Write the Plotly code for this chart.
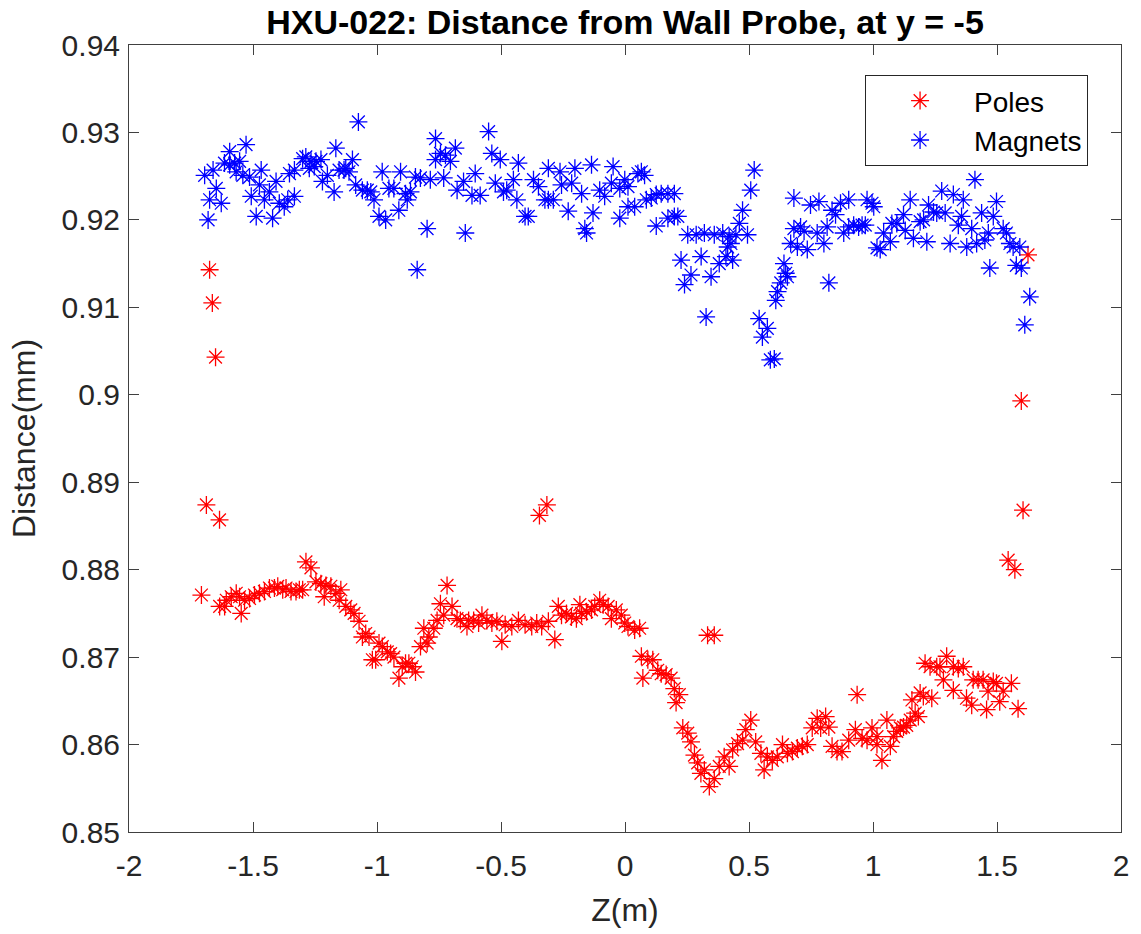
import plotly.graph_objects as go

# ---------------- data ----------------
magnets_z = [
    -1.695, -1.681, -1.675, -1.661, -1.648, -1.628, -1.615, -1.594, -1.594, -1.574,
    -1.568, -1.554, -1.541, -1.528, -1.514, -1.507, -1.487, -1.474, -1.467, -1.454,
    -1.434, -1.421, -1.407, -1.394, -1.374, -1.360, -1.353, -1.333, -1.333, -1.300,
    -1.287, -1.273, -1.266, -1.253, -1.246, -1.226, -1.220, -1.200, -1.173, -1.166,
    -1.153, -1.133, -1.126, -1.113, -1.099, -1.086, -1.075, -1.059, -1.039, -1.025,
    -1.012, -0.992, -0.979, -0.965, -0.952, -0.932, -0.912, -0.905, -0.885, -0.878,
    -0.865, -0.845, -0.838, -0.825, -0.798, -0.785, -0.764, -0.764, -0.744, -0.731,
    -0.724, -0.704, -0.684, -0.677, -0.651, -0.644, -0.617, -0.604, -0.584, -0.550,
    -0.537, -0.523, -0.503, -0.490, -0.477, -0.450, -0.436, -0.430, -0.403, -0.390,
    -0.369, -0.349, -0.323, -0.309, -0.309, -0.289, -0.262, -0.256, -0.229, -0.215,
    -0.202, -0.175, -0.162, -0.155, -0.135, -0.129, -0.102, -0.082, -0.055, -0.048,
    -0.021, -0.021, -0.001, 0.012, 0.012, 0.039, 0.052, 0.066, 0.079, 0.086,
    0.106, 0.126, 0.126, 0.146, 0.173, 0.173, 0.199, 0.199, 0.213, 0.226,
    0.240, 0.253, 0.266, 0.287, 0.307, 0.320, 0.327, 0.347, 0.360, 0.380,
    0.394, 0.407, 0.414, 0.420, 0.427, 0.434, 0.447, 0.461, 0.474, 0.494,
    0.507, 0.521, 0.541, 0.554, 0.574, 0.586, 0.602, 0.608, 0.615, 0.628,
    0.641, 0.648, 0.655, 0.668, 0.681, 0.681, 0.695, 0.708, 0.722, 0.735,
    0.748, 0.775, 0.782, 0.802, 0.815, 0.822, 0.835, 0.849, 0.869, 0.882,
    0.902, 0.902, 0.922, 0.942, 0.956, 0.969, 0.976, 0.996, 1.003, 1.016,
    1.029, 1.043, 1.070, 1.076, 1.096, 1.123, 1.130, 1.150, 1.163, 1.190,
    1.204, 1.217, 1.224, 1.244, 1.257, 1.277, 1.291, 1.311, 1.324, 1.344,
    1.357, 1.364, 1.378, 1.398, 1.411, 1.418, 1.438, 1.451, 1.465, 1.471,
    1.485, 1.498, 1.525, 1.538, 1.552, 1.565, 1.578, 1.592, 1.598, 1.612,
    1.632,
]
magnets_d = [
    0.9251, 0.9200, 0.9223, 0.9257, 0.9236, 0.9219, 0.9265, 0.9278, 0.9263, 0.9265,
    0.9255, 0.9267, 0.9251, 0.9286, 0.9249, 0.9227, 0.9204, 0.9240, 0.9257, 0.9223,
    0.9232, 0.9202, 0.9244, 0.9219, 0.9215, 0.9223, 0.9253, 0.9257, 0.9227, 0.9270,
    0.9272, 0.9259, 0.9267, 0.9261, 0.9267, 0.9269, 0.9244, 0.9251, 0.9232, 0.9282,
    0.9257, 0.9257, 0.9259, 0.9255, 0.9269, 0.9240, 0.9312, 0.9234, 0.9234, 0.9232,
    0.9223, 0.9204, 0.9255, 0.9200, 0.9236, 0.9236, 0.9211, 0.9255, 0.9230, 0.9223,
    0.9232, 0.9249, 0.9143, 0.9248, 0.9190, 0.9246, 0.9293, 0.9269, 0.9276, 0.9248,
    0.9274, 0.9267, 0.9282, 0.9234, 0.9244, 0.9185, 0.9228, 0.9253, 0.9228, 0.9301,
    0.9276, 0.9242, 0.9269, 0.9232, 0.9234, 0.9246, 0.9223, 0.9265, 0.9204, 0.9204,
    0.9246, 0.9238, 0.9223, 0.9223, 0.9259, 0.9223, 0.9255, 0.9240, 0.9210, 0.9242,
    0.9259, 0.9230, 0.9190, 0.9185, 0.9263, 0.9208, 0.9234, 0.9227, 0.9242, 0.9261,
    0.9236, 0.9202, 0.9246, 0.9238, 0.9215, 0.9215, 0.9253, 0.9255, 0.9251, 0.9223,
    0.9225, 0.9229, 0.9193, 0.9230, 0.9230, 0.9202, 0.9230, 0.9204, 0.9204, 0.9154,
    0.9126, 0.9183, 0.9137, 0.9183, 0.9158, 0.9185, 0.9089, 0.9135, 0.9183, 0.9150,
    0.9185, 0.9158, 0.9169, 0.9181, 0.9173, 0.9154, 0.9183, 0.9196, 0.9211, 0.9183,
    0.9234, 0.9257, 0.9087, 0.9066, 0.9076, 0.9040, 0.9041, 0.9108, 0.9118, 0.9128,
    0.9150, 0.9139, 0.9135, 0.9173, 0.9190, 0.9225, 0.9169, 0.9192, 0.9187, 0.9166,
    0.9217, 0.9185, 0.9221, 0.9173, 0.9192, 0.9128, 0.9211, 0.9206, 0.9219, 0.9185,
    0.9223, 0.9192, 0.9194, 0.9192, 0.9194, 0.9194, 0.9223, 0.9219, 0.9215, 0.9168,
    0.9166, 0.9185, 0.9175, 0.9196, 0.9196, 0.9206, 0.9188, 0.9223, 0.9179, 0.9198,
    0.9200, 0.9175, 0.9217, 0.9209, 0.9208, 0.9233, 0.9208, 0.9173, 0.9229, 0.9194,
    0.9204, 0.9223, 0.9169, 0.9190, 0.9246, 0.9173, 0.9208, 0.9177, 0.9185, 0.9145,
    0.9204, 0.9221, 0.9190, 0.9185, 0.9173, 0.9169, 0.9148, 0.9169, 0.9145, 0.9080,
    0.9112,
]

poles_z = [
    -1.708, -1.688, -1.675, -1.664, -1.651, -1.635, -1.6345, -1.6144, -1.6077, -1.5877,
    -1.5676, -1.5542, -1.5475, -1.5341, -1.514, -1.494, -1.4739, -1.4538, -1.4337, -1.4136,
    -1.4002, -1.3802, -1.3668, -1.3467, -1.3266, -1.3132, -1.2998, -1.2865, -1.2664, -1.2463,
    -1.2262, -1.2128, -1.2061, -1.1861, -1.166, -1.1526, -1.1459, -1.1258, -1.1058, -1.0924,
    -1.0723, -1.0589, -1.0455, -1.0321, -1.0187, -1.0053, -0.9919, -0.9786, -0.9585, -0.9451,
    -0.9317, -0.9116, -0.8982, -0.8849, -0.8715, -0.8581, -0.8447, -0.8246, -0.8112, -0.7978,
    -0.7911, -0.7711, -0.7577, -0.7443, -0.7309, -0.7175, -0.6974, -0.6774, -0.664, -0.6372,
    -0.6305, -0.6104, -0.5903, -0.5769, -0.5568, -0.5368, -0.5167, -0.4966, -0.4832, -0.4564,
    -0.4297, -0.4029, -0.3761, -0.356, -0.345, -0.336, -0.315, -0.309, -0.283, -0.269,
    -0.256, -0.236, -0.216, -0.196, -0.182, -0.175, -0.155, -0.135, -0.122, -0.102,
    -0.088, -0.068, -0.055, -0.035, -0.015, -0.001, 0.012, 0.039, 0.059, 0.066,
    0.072, 0.092, 0.112, 0.132, 0.146, 0.166, 0.186, 0.199, 0.206, 0.219,
    0.233, 0.253, 0.266, 0.280, 0.293, 0.306, 0.320, 0.333, 0.340, 0.360,
    0.360, 0.380, 0.400, 0.420, 0.434, 0.454, 0.474, 0.487, 0.507, 0.527,
    0.548, 0.561, 0.574, 0.594, 0.614, 0.635, 0.655, 0.675, 0.695, 0.715,
    0.735, 0.755, 0.775, 0.789, 0.809, 0.822, 0.835, 0.855, 0.875, 0.902,
    0.929, 0.936, 0.956, 0.976, 0.996, 1.016, 1.016, 1.036, 1.056, 1.070,
    1.083, 1.096, 1.110, 1.123, 1.136, 1.150, 1.157, 1.170, 1.183, 1.190,
    1.203, 1.210, 1.230, 1.237, 1.257, 1.270, 1.284, 1.297, 1.324, 1.324,
    1.344, 1.364, 1.377, 1.398, 1.404, 1.424, 1.444, 1.458, 1.464, 1.485,
    1.498, 1.511, 1.525, 1.545, 1.558, 1.572, 1.585, 1.598, 1.605, 1.625,
]
poles_d = [
    0.8771, 0.8874, 0.9143, 0.9105, 0.9043, 0.8857, 0.8758, 0.8758, 0.8765, 0.8769,
    0.8773, 0.8769, 0.8750, 0.8765, 0.8767, 0.8771, 0.8773, 0.8775, 0.8779, 0.8779,
    0.8781, 0.8777, 0.8779, 0.8775, 0.8775, 0.8777, 0.8777, 0.8809, 0.8802, 0.8786,
    0.8784, 0.8769, 0.8782, 0.8781, 0.8773, 0.8765, 0.8777, 0.8758, 0.8754, 0.8750,
    0.8741, 0.8723, 0.8727, 0.8723, 0.8697, 0.8697, 0.8716, 0.8712, 0.8706, 0.8704,
    0.8700, 0.8676, 0.8689, 0.8693, 0.8693, 0.8689, 0.8683, 0.8712, 0.8733, 0.8716,
    0.8723, 0.8733, 0.8742, 0.8761, 0.8748, 0.8782, 0.8758, 0.8744, 0.8742, 0.8735,
    0.8742, 0.8742, 0.8739, 0.8748, 0.8742, 0.8739, 0.8741, 0.8718, 0.8737, 0.8735,
    0.8742, 0.8737, 0.8735, 0.8739, 0.8862, 0.8735, 0.8874, 0.8741, 0.8720, 0.8758,
    0.8748, 0.8750, 0.8746, 0.8744, 0.8760, 0.8750, 0.8752, 0.8754, 0.8758, 0.8765,
    0.8760, 0.8758, 0.8744, 0.8754, 0.8748, 0.8739, 0.8735, 0.8731, 0.8733, 0.8701,
    0.8676, 0.8697, 0.8697, 0.8685, 0.8681, 0.8680, 0.8676, 0.8664, 0.8648, 0.8657,
    0.8619, 0.8613, 0.8603, 0.8588, 0.8579, 0.8567, 0.8571, 0.8725, 0.8552, 0.8561,
    0.8725, 0.8575, 0.8586, 0.8575, 0.8594, 0.8601, 0.8605, 0.8617, 0.8628, 0.8603,
    0.8590, 0.8571, 0.8586, 0.8582, 0.8586, 0.8600, 0.8590, 0.8592, 0.8596, 0.8598,
    0.8600, 0.8619, 0.8630, 0.8619, 0.8632, 0.8620, 0.8598, 0.8592, 0.8592, 0.8605,
    0.8617, 0.8657, 0.8607, 0.8605, 0.8619, 0.8609, 0.8600, 0.8582, 0.8628, 0.8598,
    0.8609, 0.8615, 0.8619, 0.8620, 0.8622, 0.8628, 0.8651, 0.8636, 0.8632, 0.8659,
    0.8655, 0.8693, 0.8689, 0.8653, 0.8689, 0.8689, 0.8674, 0.8701, 0.8662, 0.8689,
    0.8687, 0.8689, 0.8653, 0.8645, 0.8674, 0.8674, 0.8674, 0.8640, 0.8661, 0.8672,
    0.8670, 0.8649, 0.8661, 0.8811, 0.8670, 0.8800, 0.8641, 0.8993, 0.8868, 0.9160,
]

x_tick_vals = [-2, -1.5, -1, -0.5, 0, 0.5, 1, 1.5, 2]
x_tick_text = ["-2", "-1.5", "-1", "-0.5", "0", "0.5", "1", "1.5", "2"]
y_tick_vals = [0.85, 0.86, 0.87, 0.88, 0.89, 0.90, 0.91, 0.92, 0.93, 0.94]
y_tick_text = ["0.85", "0.86", "0.87", "0.88", "0.89", "0.9", "0.91", "0.92", "0.93", "0.94"]

title_text = "HXU-022: Distance from Wall Probe, at y = -5"
x_label = "Z(m)"
y_label = "Distance(mm)"

# ---------------- figure ----------------
FONT = "Liberation Sans, Arial, Helvetica, sans-serif"
AX = "#262626"
LINE = "#404040"

fig = go.Figure()
fig.add_trace(go.Scatter(
    x=poles_z, y=poles_d, mode="markers", name="Poles",
    marker=dict(symbol="asterisk-open", size=15, color="#FF0000",
                line=dict(width=1.3, color="#FF0000")),
))
fig.add_trace(go.Scatter(
    x=magnets_z, y=magnets_d, mode="markers", name="Magnets",
    marker=dict(symbol="asterisk-open", size=15, color="#0000FF",
                line=dict(width=1.3, color="#0000FF")),
))

axis_common = dict(
    showgrid=False, zeroline=False, showline=True, linecolor=LINE, linewidth=1,
    mirror="ticks", ticks="inside", ticklen=10, tickwidth=1, tickcolor=LINE,
    tickfont=dict(family=FONT, size=30, color=AX),
)

fig.update_layout(
    width=1141, height=934,
    paper_bgcolor="white", plot_bgcolor="white",
    margin=dict(l=129, r=16, t=45, b=102),
    font=dict(family=FONT, size=30, color=AX),
    title=dict(text="<b>" + title_text + "</b>", x=0.5, xref="paper",
               y=0.9764, yref="container", yanchor="middle",
               font=dict(family=FONT, size=34, color="#000000")),
    xaxis=dict(range=[-2, 2], tickmode="array", tickvals=x_tick_vals,
               ticktext=x_tick_text, ticklabelstandoff=7,
               title=dict(text=x_label, standoff=17,
                          font=dict(family=FONT, size=32, color=AX)),
               **axis_common),
    yaxis=dict(range=[0.85, 0.94], tickmode="array", tickvals=y_tick_vals,
               ticktext=y_tick_text, ticklabelstandoff=2,
               title=dict(text=y_label, standoff=16,
                          font=dict(family=FONT, size=32, color=AX)),
               **axis_common),
    legend=dict(x=0.742, y=0.962, xanchor="left", yanchor="top",
                bgcolor="white", bordercolor=AX, borderwidth=1,
                font=dict(family=FONT, size=28, color="#000000"),
                itemwidth=98, tracegroupgap=0),
    showlegend=True,
)

# remove the page's default 8px body margin so the figure fills the window exactly
fig.write_html("out.html", config={"displayModeBar": False},
               post_script="document.body.style.margin='0';")
